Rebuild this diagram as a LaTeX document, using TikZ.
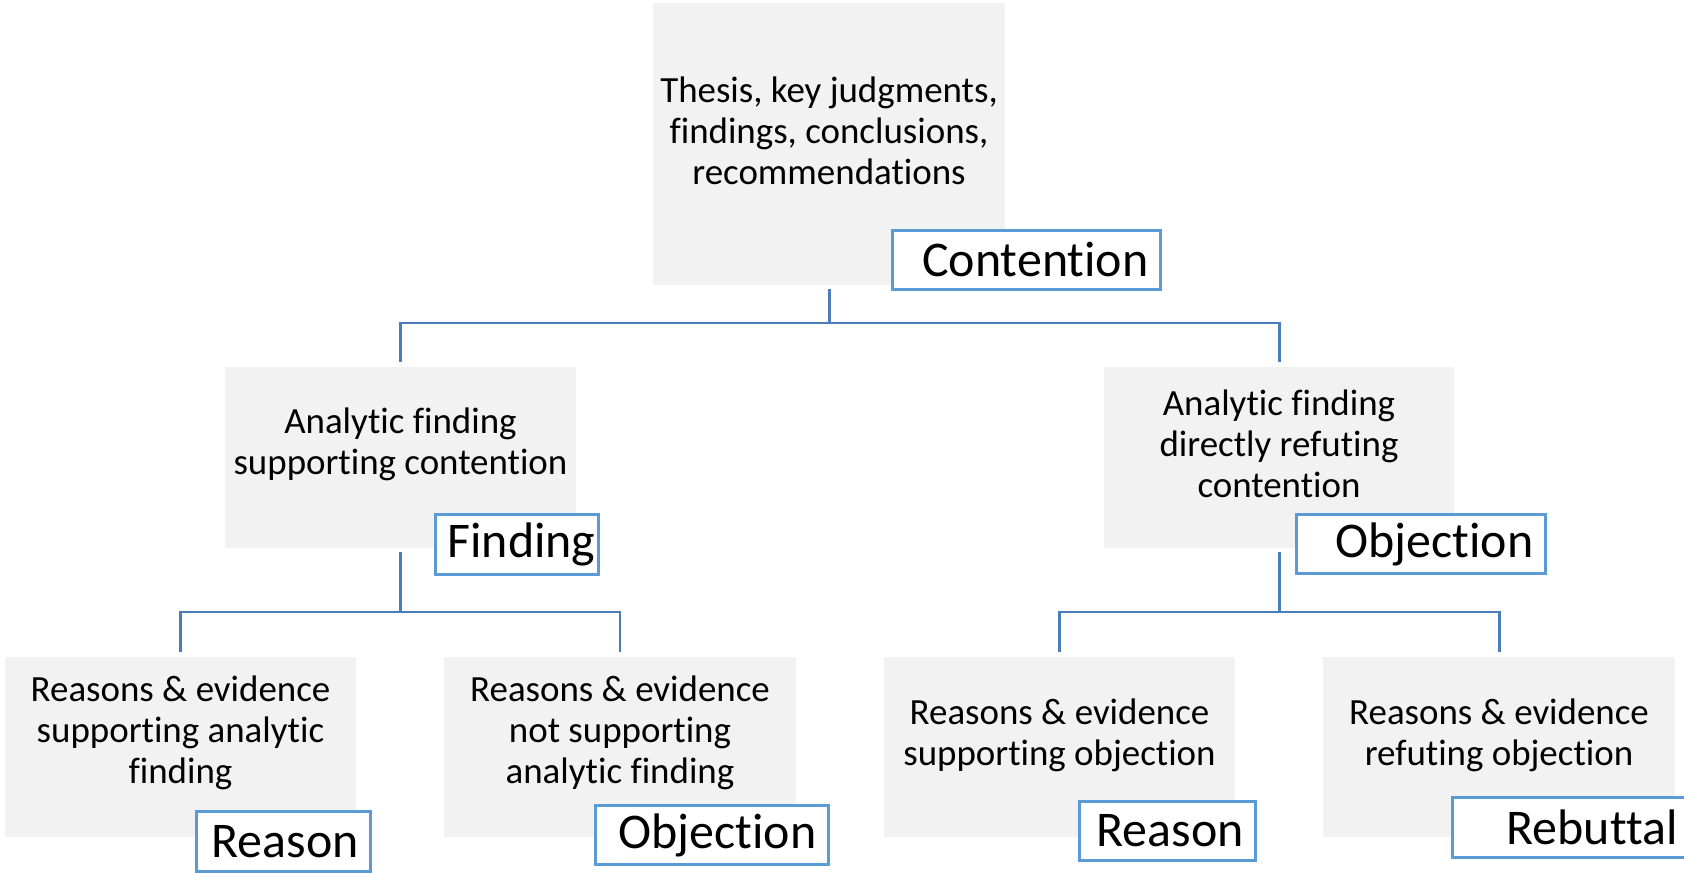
\documentclass[tikz,border=0pt]{standalone}
\usepackage{fontspec}
\setmainfont[Ligatures=NoCommon]{Carlito}
\definecolor{map_grey}{RGB}{242, 242, 242}
\definecolor{map_blue}{RGB}{91, 155, 213}
\definecolor{map_line}{RGB}{74, 126, 187}
\tikzstyle{pb}=[rectangle,fill=map_grey,inner sep=0pt]
\tikzstyle{tx}=[align=center,inner sep=0pt,
  font=\fontsize{10.5}{11.7}\selectfont]
\tikzstyle{lb}=[rectangle,fill=white,draw=map_blue,line width=0.85pt,
  inner xsep=0.12cm,inner ysep=0pt,minimum height=0.59cm,align=right,
  font=\fontsize{14.2}{16}\selectfont]
\tikzstyle{cn}=[draw=map_line,line width=0.85pt,line join=miter]

\begin{document}
\begin{tikzpicture}[x=0.01cm,y=-0.01cm]
        \useasboundingbox (0,0) rectangle (1684,873);
        \node[style=pb,minimum width=3.52cm,minimum height=2.82cm] (0) at (829,144) {};
        \node[style=pb,minimum width=3.5cm,minimum height=1.81cm] (1) at (400.5,457.5) {};
        \node[style=pb,minimum width=3.5cm,minimum height=1.81cm] (2) at (1279,457.5) {};
        \node[style=pb,minimum width=3.51cm,minimum height=1.8cm] (1a) at (180.5,747) {};
        \node[style=pb,minimum width=3.51cm,minimum height=1.8cm] (1b) at (620,747) {};
        \node[style=pb,minimum width=3.51cm,minimum height=1.8cm] (2a) at (1059.5,747) {};
        \node[style=pb,minimum width=3.51cm,minimum height=1.8cm] (2b) at (1499,747) {};
        \node[style=tx] (0t) at (829,131) {Thesis, key judgments,\\findings, conclusions,\\recommendations};
        \node[style=tx] (1t) at (400.5,444) {Analytic finding\\supporting contention};
        \node[style=tx] (2t) at (1279,444) {Analytic finding\\directly refuting\\contention};
        \node[style=tx] (1at) at (180.5,733) {Reasons \& evidence\\supporting analytic\\finding};
        \node[style=tx] (1bt) at (620,733) {Reasons \& evidence\\not supporting\\analytic finding};
        \node[style=tx] (2at) at (1059.5,735) {Reasons \& evidence\\supporting objection};
        \node[style=tx] (2bt) at (1499,735) {Reasons \& evidence\\refuting objection};
        \node[style=lb,text width=2.44cm] (0l) at (1026.5,260) {Contention};
        \node[style=lb,text width=1.39cm] (1l) at (517,544.5) {Finding};
        \node[style=lb,text width=2.25cm] (2l) at (1421,544) {Objection};
        \node[style=lb,text width=1.5cm] (1al) at (283.5,841.5) {Reason};
        \node[style=lb,text width=2.09cm] (1bl) at (712,835) {Objection};
        \node[style=lb,text width=1.52cm] (2al) at (1167.5,831) {Reason};
        \node[style=lb,text width=2.13cm] (2bl) at (1571,827.5) {Rebuttal};
        \coordinate (bar0) at (829,323);
        \coordinate (bar1) at (400.5,612);
        \coordinate (bar2) at (1279,612);
        \draw[style=cn,shorten <=0.03cm] (0.south) to (bar0);
        \draw[style=cn,shorten >=0.04cm] (bar0) -| (1.north);
        \draw[style=cn,shorten >=0.04cm] (bar0) -| (2.north);
        \draw[style=cn,shorten <=0.03cm] (1.south) to (bar1);
        \draw[style=cn,shorten >=0.04cm] (bar1) -| (1a.north);
        \draw[style=cn,shorten >=0.04cm] (bar1) -| (1b.north);
        \draw[style=cn,shorten <=0.03cm] (2.south) to (bar2);
        \draw[style=cn,shorten >=0.04cm] (bar2) -| (2a.north);
        \draw[style=cn,shorten >=0.04cm] (bar2) -| (2b.north);
    \end{tikzpicture}
\end{document}
